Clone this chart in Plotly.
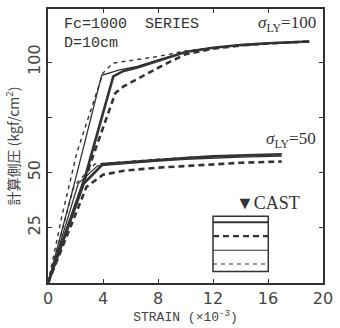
import plotly.graph_objects as go

# ---- data (strain x10^-3, lateral pressure kgf/cm2) ----
# sigma_LY = 100 group
s100_thick_solid_x = [0, 2.7, 4.75, 5.5, 6.5, 8, 10, 12, 14, 16, 19]
s100_thick_solid_y = [0, 48, 93.5, 96, 97.5, 100.5, 104.5, 106.5, 107.7, 108.5, 109.3]
s100_thick_dash_x = [0, 3.3, 4.9, 5.5, 7, 8.5, 10, 12, 14, 16, 19]
s100_thick_dash_y = [0, 58, 86, 89, 94, 99, 103.5, 106, 107.5, 108.4, 109.3]
s100_thin_solid_x = [0, 2.0, 3.9, 5.2, 6.5, 8, 10, 12, 14, 16, 19]
s100_thin_solid_y = [0, 47, 94, 96.5, 98, 101, 104.5, 106.5, 107.7, 108.5, 109.3]
s100_thin_dash_x = [0, 1.0, 2.1, 4.0, 4.7, 6.5, 8, 10, 12, 14, 16, 19]
s100_thin_dash_y = [0, 30, 59, 95, 99.5, 101, 102.5, 105, 106.5, 107.5, 108.3, 109.3]

# sigma_LY = 50 group
s50_thick_solid_x = [0, 2.6, 4.0, 6, 8, 10, 12, 14, 17]
s50_thick_solid_y = [0, 45, 53.8, 54.8, 55.8, 56.6, 57.3, 57.8, 58.3]
s50_thick_dash_x = [0, 2.8, 4.0, 5.5, 8, 10, 12, 14, 17]
s50_thick_dash_y = [0, 43.5, 49, 50.8, 52.2, 53, 53.8, 54.4, 55]
s50_thin_solid_x = [0, 2.2, 3.6, 6, 8, 10, 12, 14, 17]
s50_thin_solid_y = [0, 45, 53, 54.3, 55.2, 56, 56.6, 57, 57.4]
s50_thin_dash_x = [0, 1.9, 3.4, 6, 8, 10, 12, 14, 17]
s50_thin_dash_y = [0, 44, 53.8, 55.2, 56, 56.8, 57.3, 57.7, 58]

x_ticks = [0, 4, 8, 12, 16, 20]
y_ticks = [0, 25, 50, 75, 100]
y_ticktext = ["", "25", "50", "", "100"]

# legend sample rows (y in data units) and box
legend_box_x = [12, 16.02]
legend_box_y = [5.2, 30.2]
legend_rows_y = [27.5, 21.2, 14.8, 8.6]

INK = "#333333"
styles = {
    "thick_solid": dict(width=2.6, dash="solid"),
    "thick_dash": dict(width=2.6, dash="6px,4px"),
    "thin_solid": dict(width=1.3, dash="solid"),
    "thin_dash": dict(width=1.4, dash="4px,4px"),
}

fig = go.Figure()
series = [
    (s100_thin_dash_x, s100_thin_dash_y, "thin_dash"),
    (s100_thin_solid_x, s100_thin_solid_y, "thin_solid"),
    (s100_thick_dash_x, s100_thick_dash_y, "thick_dash"),
    (s100_thick_solid_x, s100_thick_solid_y, "thick_solid"),
    (s50_thin_dash_x, s50_thin_dash_y, "thin_dash"),
    (s50_thin_solid_x, s50_thin_solid_y, "thin_solid"),
    (s50_thick_dash_x, s50_thick_dash_y, "thick_dash"),
    (s50_thick_solid_x, s50_thick_solid_y, "thick_solid"),
]
for xs, ys, st in series:
    fig.add_trace(go.Scatter(x=xs, y=ys, mode="lines",
                             line=dict(color=INK, **styles[st]),
                             showlegend=False, hoverinfo="skip"))

# legend box
fig.add_shape(type="rect", xref="x", yref="y",
              x0=legend_box_x[0], x1=legend_box_x[1],
              y0=legend_box_y[0], y1=legend_box_y[1],
              line=dict(color=INK, width=1.5))
for yy, st in zip(legend_rows_y, ["thick_solid", "thick_dash", "thin_solid", "thin_dash"]):
    fig.add_shape(type="line", xref="x", yref="y",
                  x0=legend_box_x[0], x1=legend_box_x[1], y0=yy, y1=yy,
                  line=dict(color=INK, width=styles[st]["width"] * 0.8,
                            dash=styles[st]["dash"]))

serif = "Liberation Serif"
mono = "Liberation Mono"
ann = [
    dict(x=1.0, y=117, text="Fc=1000  SERIES", xanchor="left", font=dict(family=mono, size=15)),
    dict(x=1.0, y=108.5, text="D=10cm", xanchor="left", font=dict(family=mono, size=15)),
    dict(x=19.6, y=117, text="<i>σ</i><sub>LY</sub>=100", xanchor="right", font=dict(family=serif, size=17)),
    dict(x=19.6, y=64.5, text="<i>σ</i><sub>LY</sub>=50", xanchor="right", font=dict(family=serif, size=17)),
    dict(x=18.5, y=36, text="▼CAST", xanchor="right", font=dict(family=serif, size=18)),
]
for a in ann:
    a["font"]["color"] = "#333"
    fig.add_annotation(xref="x", yref="y", showarrow=False, yanchor="middle", **a)

fig.update_layout(
    width=340, height=328,
    margin=dict(l=48, r=11, t=7, b=42),
    paper_bgcolor="white", plot_bgcolor="white",
    font=dict(family="DejaVu Sans", color="#444"),
    xaxis=dict(range=[0, 20], tickvals=x_ticks, ticks="inside", ticklen=4,
               tickwidth=1.2, tickcolor=INK, showgrid=False, zeroline=False,
               showline=True, linecolor=INK, linewidth=1.6, mirror="ticks",
               tickfont=dict(family="DejaVu Sans", size=16, color="#444"),
               title=dict(text="STRAIN (×10<sup>-3</sup>)", standoff=4,
                          font=dict(family=mono, size=13, color="#444"))),
    yaxis=dict(range=[0, 124], tickvals=y_ticks, ticktext=y_ticktext,
               ticks="inside", ticklen=4, tickwidth=1.2, tickcolor=INK,
               tickangle=-90, showgrid=False, zeroline=False,
               showline=True, linecolor=INK, linewidth=1.6, mirror="ticks",
               tickfont=dict(family="DejaVu Sans", size=16, color="#444"),
               title=dict(text="計算側圧 (kgf/cm<sup>2</sup>)", standoff=2,
                          font=dict(family="Noto Sans CJK JP", size=14, color="#444"))),
)

fig.write_html("out.html")
